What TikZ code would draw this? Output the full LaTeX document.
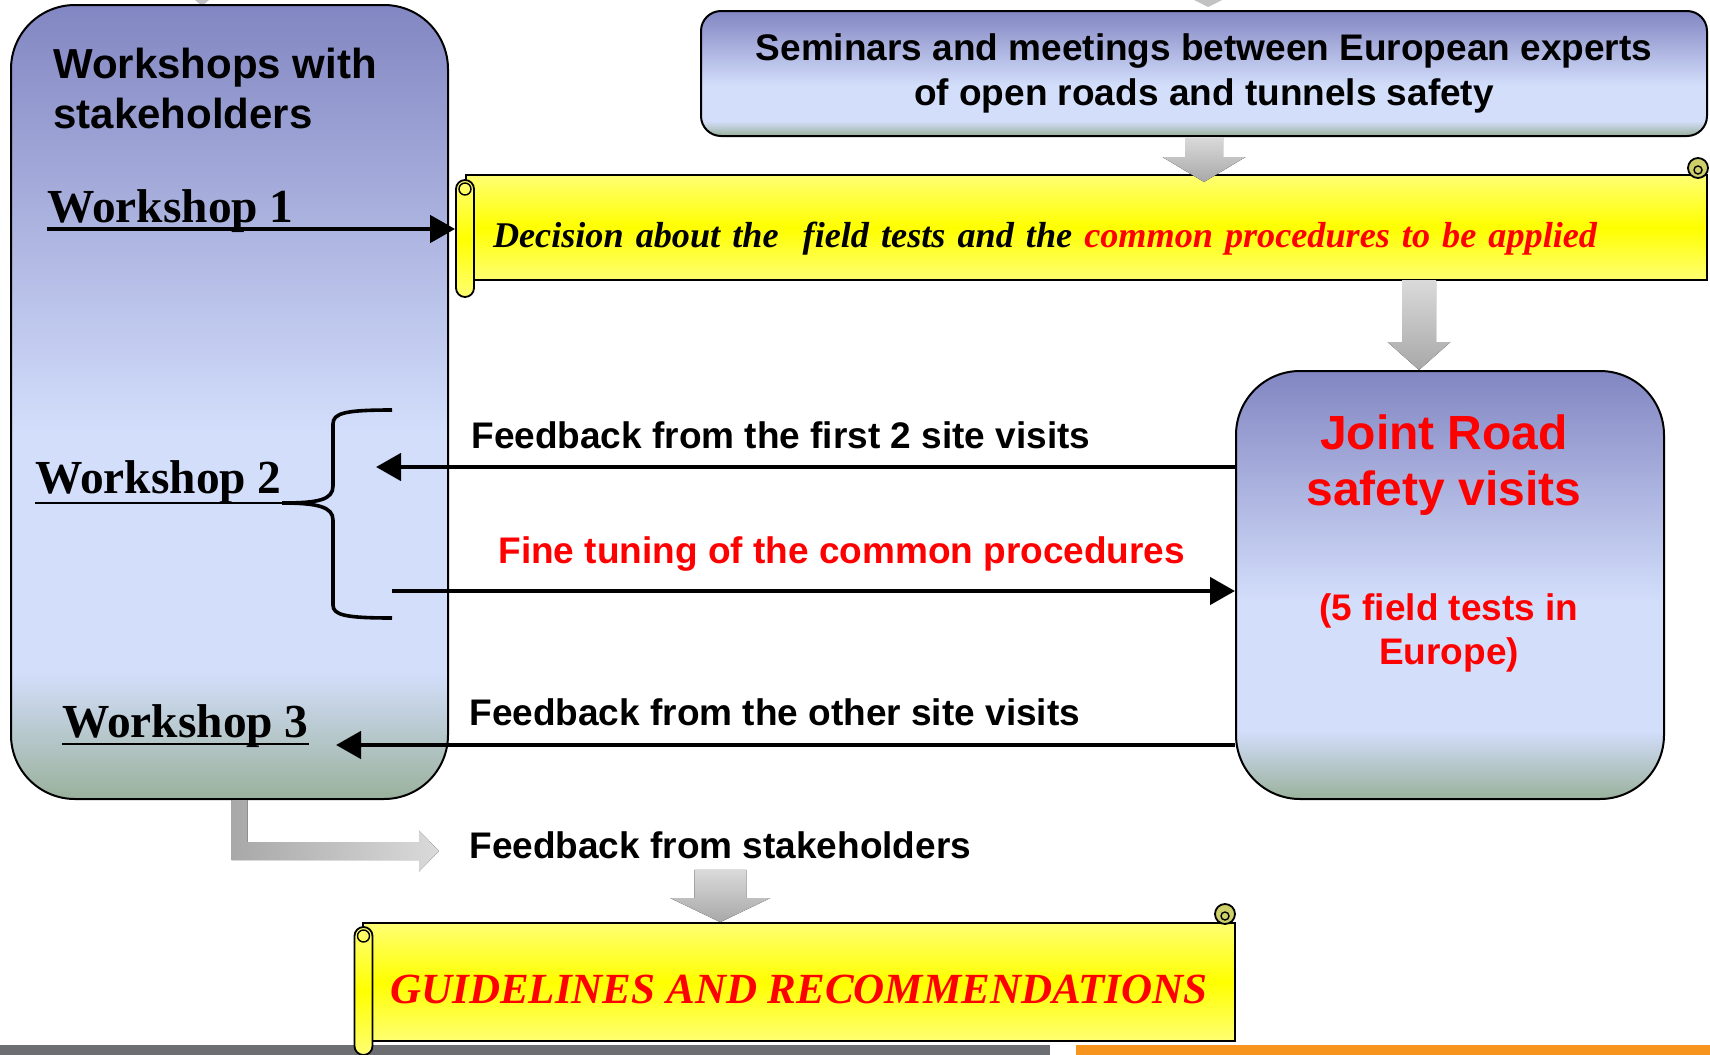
\documentclass[tikz,border=0pt]{standalone}
\usepackage{fontspec}
\setmainfont{Liberation Serif}
\setsansfont{Liberation Sans}
\usepackage{xcolor}
\usepackage{tikz}
\usetikzlibrary{arrows.meta,calc}

\definecolor{boxtop}{HTML}{8286C2}
\definecolor{boxlight}{HTML}{D3DEFB}
\definecolor{boxgreen}{HTML}{9AB19C}
\definecolor{scrolledge}{HTML}{FFFF73}
\definecolor{scrollmid}{HTML}{FFFF00}
\definecolor{scrollcurl}{HTML}{CFCF6A}
\definecolor{arrowlight}{HTML}{DADADA}
\definecolor{arrowdark}{HTML}{A8A8A8}
\definecolor{bargray}{HTML}{6D6E71}
\definecolor{barorange}{HTML}{F7941D}

\pgfdeclareverticalshading{bigbox}{100bp}{color(0bp)=(boxgreen); color(25bp)=(boxgreen); color(33bp)=(boxlight); color(48bp)=(boxlight); color(75bp)=(boxtop); color(100bp)=(boxtop)}
\pgfdeclareverticalshading{semibox}{100bp}{color(0bp)=(boxgreen); color(25bp)=(boxgreen); color(31bp)=(boxlight); color(45bp)=(boxlight); color(75bp)=(boxtop); color(100bp)=(boxtop)}

\newcommand{\blockdown}[5]{%
  \fill[top color=arrowlight, bottom color=arrowdark]
    let \p1=(#1), \p2=(#2) in
    (\x1-#3,\y1) -- (\x1+#3,\y1) -- (\x1+#3,\y2+#5) -- (\x1+#4,\y2+#5)
    -- (\x1,\y2) -- (\x1-#4,\y2+#5) -- (\x1-#3,\y2+#5) -- cycle;}

\begin{document}
\begin{tikzpicture}[x=0.5pt, y=-0.5pt,
  bluebox/.style={draw, line width=1pt, shade, shading=bigbox, rounded corners=32pt},
  scrollbody/.style={draw, line width=0.9pt, top color=scrolledge, bottom color=scrolledge, middle color=scrollmid},
  roll/.style={scrollbody, rounded corners=4.5pt, minimum width=9pt, inner sep=0pt},
  flowarrow/.style={line width=2.3pt, -{Triangle[length=12.5pt, width=13.5pt]}},
  wslabel/.style={font=\fontsize{23.7}{28}\selectfont\bfseries, inner sep=0pt, anchor=base west},
  fblabel/.style={font=\sffamily\bfseries\fontsize{18.5}{22}\selectfont, inner sep=0pt, anchor=base west},
  uline/.style={line width=1.2pt},
  bracel/.style={line width=1.8pt}]
  \useasboundingbox (0,0) rectangle (1710,1055);

  \fill[bargray] (0,1045) rectangle (1050,1055);
  \fill[barorange] (1076,1045) rectangle (1710,1055);
  \fill[arrowdark!70] (195,0) -- (209,0) -- (202,6) -- cycle;
  \fill[arrowdark!70] (1194,0) -- (1222,0) -- (1208,7) -- cycle;

  \coordinate (benttip) at (439,851);
  \node[bluebox, minimum width=218.5pt, minimum height=397pt] (workshops) at (229.5,402) {};
  \fill[left color=arrowdark, right color=arrowlight] let \p1=(workshops.south), \p2=(benttip) in
    (\x1+1pt,\y1) -- (\x1+9pt,\y1) -- (\x1+9pt,\y2+4.5pt) -- (\x2-10pt,\y2+4.5pt)
    -- (\x2-10pt,\y2+10.25pt) -- (\x2,\y2) -- (\x2-10pt,\y2-10.25pt) -- (\x2-10pt,\y2-4.5pt)
    -- (\x1+1pt,\y2-4.5pt) -- cycle;
  \node[font=\sffamily\bfseries\fontsize{21}{25}\selectfont, align=left, inner sep=0pt, anchor=north west] (wstitle) at (53,48) {Workshops with\\stakeholders};

  \node[draw, line width=1pt, shade, shading=semibox, rounded corners=10pt, minimum width=503pt, minimum height=62.5pt, align=center, font=\sffamily\bfseries\fontsize{18.5}{22.5}\selectfont] (seminars) at (1204,73.5) {Seminars and meetings between European experts\\of open roads and tunnels safety};

  \node[scrollbody, minimum height=52.5pt, text width=593.5pt, inner xsep=13.5pt, inner ysep=0pt, text height=19.5pt, text depth=0pt, align=left, font=\fontsize{18.1}{22}\selectfont\bfseries\itshape] (decision) at (1086.5,227.5) {Decision about the \ field tests and the \textcolor{red}{common procedures to be applied}};
  \node[roll, minimum height=58.5pt] (decroll) at (465,238.5) {};
  \draw[line width=0.7pt] (465,189) circle (3pt);
  \draw[line width=0.9pt, fill=scrollcurl] (1698,168) circle (5pt);
  \draw[line width=0.7pt] (1698,170) circle (2pt);

  \node[bluebox, minimum width=214pt, minimum height=214pt] (joint) at (1450,585) {};
  \node[font=\sffamily\bfseries\fontsize{24}{28}\selectfont, text=red, align=center, inner sep=0pt] (jointtitle) at (1444,465.5) {Joint Road\\safety visits};
  \node[font=\sffamily\bfseries\fontsize{18.5}{22}\selectfont, text=red, align=center, inner sep=0pt] (jointsub) at (1449,632.5) {(5 field tests in\\Europe)};

  \node[wslabel] (ws1) at (47,222) {Workshop 1};
  \node[wslabel] (ws2) at (35,493) {Workshop 2};
  \node[wslabel] (ws3) at (62,737) {Workshop 3};

  \coordinate (ws1u) at ([yshift=-3.5pt]ws1.base west);
  \draw[flowarrow] (ws1u) -- (ws1u -| decroll.west);
  \coordinate (bracetip) at ([yshift=-5pt]ws2.base east);
  \draw[uline] ([yshift=-5pt]ws2.base west) -- (bracetip);
  \draw[uline] ([yshift=-3.5pt]ws3.base west) -- ([yshift=-3.5pt]ws3.base east);

  \draw[bracel] (bracetip) .. controls (318,503) and (333,500) .. (333,486) -- (333,424) .. controls (333,413) and (345,410) .. (392,410);
  \draw[bracel] (bracetip) .. controls (318,503) and (333,507) .. (333,520) -- (333,605) .. controls (333,615) and (345,618) .. (392,618);

  \coordinate (fb1tip) at (376,467);
  \coordinate (ftstart) at (392,591);
  \coordinate (fb3tip) at (336,745);
  \draw[flowarrow] (fb1tip -| joint.west) -- (fb1tip);
  \draw[flowarrow] (ftstart) -- (ftstart -| joint.west);
  \draw[flowarrow] (fb3tip -| joint.west) -- (fb3tip);

  \node[fblabel] (fb1) at (471,448) {Feedback from the first 2 site visits};
  \node[fblabel, text=red] (finetune) at (498,563) {Fine tuning of the common procedures};
  \node[fblabel] (fb3) at (469,725) {Feedback from the other site visits};
  \node[fblabel] (fbstake) at (469,858) {Feedback from stakeholders};

  \node[scrollbody, minimum width=436pt, minimum height=59pt, inner sep=0pt, text height=21pt, text depth=0pt, text=red, font=\fontsize{21.5}{25}\selectfont\bfseries\itshape] (guidelines) at (799,982) {GUIDELINES AND RECOMMENDATIONS};
  \node[roll, minimum height=64pt] (guideroll) at (363.5,991) {};
  \draw[line width=0.7pt] (363.5,936) circle (3pt);
  \draw[line width=0.9pt, fill=scrollcurl] (1225,914) circle (5pt);
  \draw[line width=0.7pt] (1225,916) circle (2pt);

  \coordinate (semtip) at (1204,182);
  \coordinate (decout) at (1419,280);
  \blockdown{seminars.south}{semtip}{9.5pt}{20.75pt}{12.5pt}
  \blockdown{decout}{decout |- joint.north}{8.5pt}{15.75pt}{14pt}
  \blockdown{[yshift=-5.5pt]fbstake.south}{fbstake.south |- guidelines.north}{13pt}{25pt}{12pt}
\end{tikzpicture}
\end{document}
